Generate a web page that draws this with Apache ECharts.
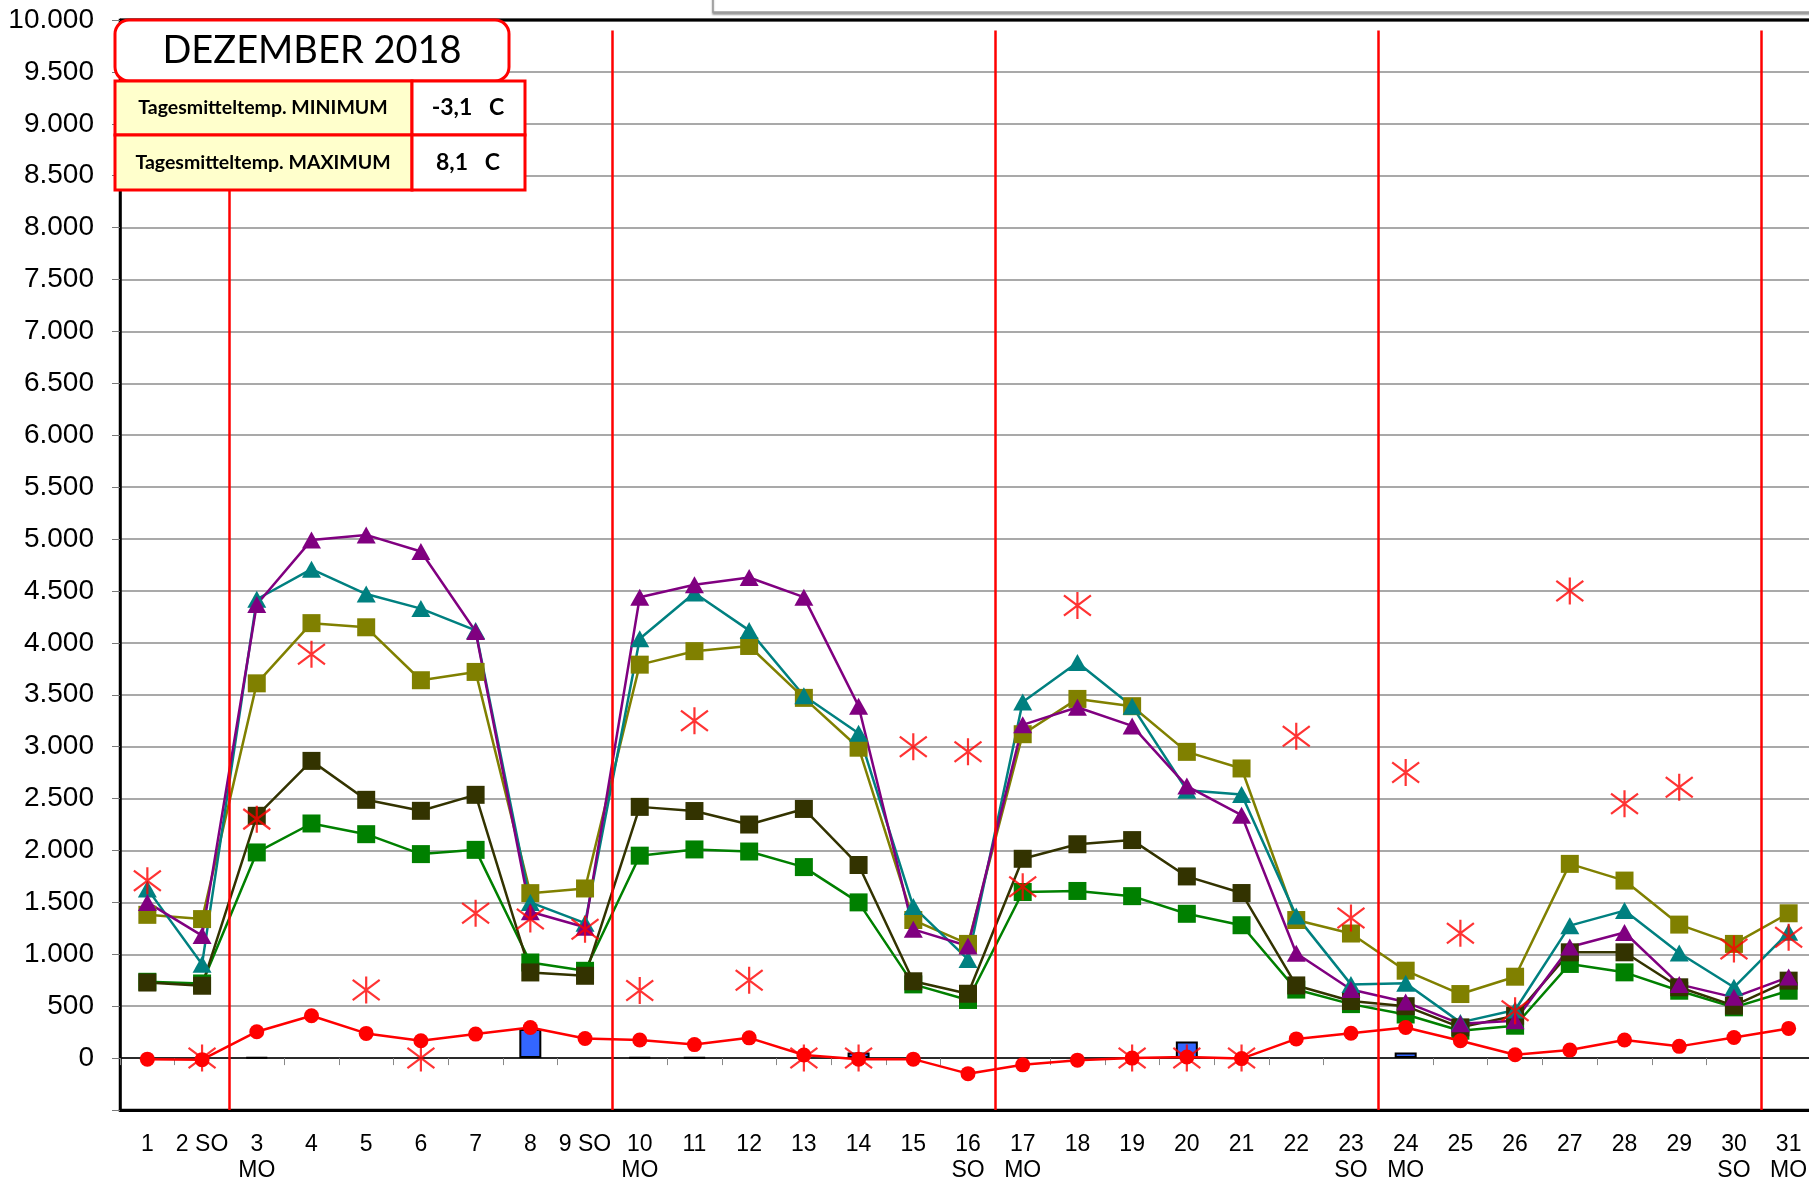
<!DOCTYPE html>
<html>
<head>
<meta charset="utf-8">
<title>Dezember 2018</title>
<script src="https://cdn.jsdelivr.net/npm/echarts@6/dist/echarts.min.js"></script>
<style>
  html, body { margin: 0; padding: 0; background: #fff; }
  #myCharts { width: 1809px; height: 1186px; }
</style>
</head>
<body>
<div id="myCharts"></div>
<script>
// x categories (day + weekday hint)
const days = ['1', '2 SO', '3\nMO', '4', '5', '6', '7', '8', '9 SO', '10\nMO', '11', '12', '13', '14', '15', '16\nSO',
  '17\nMO', '18', '19', '20', '21', '22', '23\nSO', '24\nMO', '25', '26', '27', '28', '29', '30\nSO', '31\nMO'];

// week boundaries (between SO and MO)
const weekBreaks = [2, 9, 16, 23, 30];

const purpleData = [1500, 1180, 4370, 4990, 5040, 4880, 4110, 1410, 1260, 4440, 4560, 4630, 4440, 3390, 1240, 1080,
  3210, 3380, 3200, 2620, 2340, 1010, 660, 540, 330, 360, 1070, 1210, 710, 585, 780];
const tealData = [1630, 905, 4420, 4710, 4470, 4330, 4120, 1500, 1300, 4040, 4480, 4120, 3490, 3130, 1460, 950,
  3430, 3810, 3390, 2580, 2540, 1370, 710, 720, 344, 463, 1276, 1421, 1013, 682, 1212];
const oliveData = [1380, 1339, 3610, 4190, 4150, 3640, 3720, 1589, 1634, 3790, 3920, 3970, 3470, 2990, 1330, 1100,
  3120, 3460, 3390, 2950, 2790, 1330, 1200, 842, 617, 784, 1871, 1710, 1286, 1100, 1395];
const darkData = [728, 697, 2334, 2863, 2488, 2382, 2536, 825, 793, 2420, 2380, 2250, 2400, 1860, 740, 620,
  1920, 2060, 2100, 1750, 1590, 700, 550, 500, 296, 408, 1019, 1019, 682, 505, 746];
const greenData = [735, 719, 1981, 2260, 2157, 1965, 2006, 921, 841, 1950, 2010, 1990, 1840, 1500, 710, 560,
  1600, 1610, 1560, 1390, 1280, 660, 520, 420, 264, 312, 907, 826, 649, 489, 649];
const redData = [-10, -15, 254, 408, 238, 167, 231, 295, 189, 175, 130, 195, 30, -10, -10, -150,
  -65, -20, 0, 10, -5, 185, 240, 295, 167, 32, 77, 174, 113, 199, 286];
const starData = [1708, 0, 2302, 3890, 655, 0, 1396, 1339, 1242, 650, 3250, 750, 0, 0, 3000, 2950,
  1650, 4360, 0, 0, 0, 3100, 1350, 2750, 1202, 456, 4500, 2450, 2610, 1051, 1164];
const barData = [null, null, 8, null, null, null, null, 280, null, 8, 5, null, null, 55, null, null,
  null, null, null, 160, null, null, null, 55, null, null, null, null, null, null, null];

const myCharts = echarts.init(document.getElementById('myCharts'));

function lineSeries(name, data, color, symbol, size) {
  return {
    name: name,
    type: 'line',
    data: data,
    symbol: symbol,
    symbolSize: size,
    itemStyle: { color: color },
    lineStyle: { color: color, width: 2.5 },
    z: 3
  };
}

const starPath = 'path://M10,0L10,20M0,2.5L20,17.5M20,2.5L0,17.5';
const plotLeft = 120;
const plotTop = 20;

myCharts.setOption({
  animation: false,
  backgroundColor: '#fff',
  grid: {
    left: plotLeft,
    width: 1696,
    top: plotTop,
    bottom: 76,
    outerBoundsMode: 'none',
    containLabel: false,
    show: true,
    borderColor: '#000',
    borderWidth: 2.5
  },
  xAxis: [
    {
      type: 'category',
      data: days,
      position: 'bottom',
      axisLine: { onZero: false, lineStyle: { color: '#000', width: 3 } },
      axisTick: { show: false },
      axisLabel: {
        interval: 0,
        margin: 22,
        color: '#000',
        fontFamily: 'Liberation Sans, Arial, sans-serif',
        fontSize: 23,
        lineHeight: 26
      },
      splitLine: { show: false }
    },
    {
      type: 'category',
      data: days,
      position: 'bottom',
      axisLine: { onZero: true, lineStyle: { color: '#000', width: 1.5 } },
      axisTick: { show: true, interval: 0, length: 7, lineStyle: { color: '#888', width: 1 } },
      axisLabel: { show: false },
      splitLine: { show: false }
    },
    {
      type: 'value',
      min: 0,
      max: 31,
      show: false
    }
  ],
  yAxis: {
    type: 'value',
    min: -500,
    max: 10000,
    interval: 500,
    axisLine: { show: true, onZero: false, lineStyle: { color: '#000', width: 2.5 } },
    axisTick: { show: true, length: 8, lineStyle: { color: '#777', width: 1 } },
    axisLabel: {
      margin: 26,
      color: '#000',
      fontFamily: 'Liberation Sans, Arial, sans-serif',
      fontSize: 28,
      formatter: function (v) {
        if (v < 0) return '';
        return String(v).replace(/\B(?=(\d{3})+(?!\d))/g, '.');
      }
    },
    splitLine: { show: true, lineStyle: { color: '#8c8c8c', width: 1.5 } }
  },
  series: [
    {
      name: 'Balken',
      type: 'bar',
      data: barData,
      barWidth: 22,
      itemStyle: { color: '#3366ff', borderColor: '#000', borderWidth: 2 },
      z: 2
    },
    lineSeries('Reihe 5', greenData, '#008000', 'rect', 18),
    lineSeries('Reihe 4', darkData, '#333300', 'rect', 18),
    lineSeries('Reihe 3', oliveData, '#808000', 'rect', 18),
    lineSeries('Reihe 2', tealData, '#008080', 'triangle', [19, 17]),
    lineSeries('Reihe 1', purpleData, '#800080', 'triangle', [19, 17]),
    {
      name: 'Temperatur',
      type: 'line',
      data: redData,
      symbol: 'circle',
      symbolSize: 15,
      itemStyle: { color: '#ff0000' },
      lineStyle: { color: '#ff0000', width: 2.5 },
      z: 4
    },
    {
      name: 'Sterne',
      type: 'scatter',
      data: starData,
      symbol: starPath,
      symbolSize: [27, 27],
      itemStyle: { color: 'rgba(0,0,0,0)', borderColor: '#ff0000', borderWidth: 2.2 },
      z: 5
    },
    {
      name: 'Wochen',
      type: 'line',
      xAxisIndex: 2,
      data: [],
      z: 6,
      markLine: {
        silent: true,
        symbol: 'none',
        label: { show: false },
        lineStyle: { color: '#ff0000', width: 2.5, type: 'solid' },
        data: weekBreaks.map(function (x) {
          return [{ coord: [x, 9900] }, { coord: [x, -500] }];
        })
      }
    }
  ],
  graphic: [
    // thick top border of the plot area
    { type: 'line', z: 40, shape: { x1: plotLeft, y1: plotTop, x2: 1809, y2: plotTop },
      style: { stroke: '#000', lineWidth: 3 } },
    // legend box cut at the top
    { type: 'rect', z: 50, shape: { x: 713, y: -20, width: 1120, height: 32 },
      style: { fill: '#fff', stroke: '#9a9a9a', lineWidth: 1.5, shadowColor: 'rgba(0,0,0,0.35)', shadowOffsetY: 2, shadowBlur: 2 } },
    // title box
    { type: 'rect', z: 100, shape: { x: 115, y: 20, width: 394, height: 61, r: 14 },
      style: { fill: '#fff', stroke: '#ff0000', lineWidth: 3 } },
    { type: 'text', z: 101, style: { x: 312, y: 51, text: 'DEZEMBER 2018', align: 'center', verticalAlign: 'middle',
      font: '38px Lato, "Open Sans", sans-serif', fill: '#000' } },
    { type: 'rect', z: 100, shape: { x: 115, y: 81, width: 297, height: 54 },
      style: { fill: '#ffffcc', stroke: '#ff0000', lineWidth: 3 } },
    { type: 'rect', z: 100, shape: { x: 412, y: 81, width: 113, height: 54 },
      style: { fill: '#fff', stroke: '#ff0000', lineWidth: 3 } },
    { type: 'rect', z: 100, shape: { x: 115, y: 135, width: 297, height: 55 },
      style: { fill: '#ffffcc', stroke: '#ff0000', lineWidth: 3 } },
    { type: 'rect', z: 100, shape: { x: 412, y: 135, width: 113, height: 55 },
      style: { fill: '#fff', stroke: '#ff0000', lineWidth: 3 } },
    { type: 'text', z: 101, style: { x: 263, y: 108, text: 'Tagesmitteltemp. MINIMUM', align: 'center', verticalAlign: 'middle',
      font: 'bold 19.5px Lato, "Open Sans", sans-serif', fill: '#000' } },
    { type: 'text', z: 101, style: { x: 263, y: 163, text: 'Tagesmitteltemp. MAXIMUM', align: 'center', verticalAlign: 'middle',
      font: 'bold 19.5px Lato, "Open Sans", sans-serif', fill: '#000' } },
    { type: 'text', z: 101, style: { x: 468, y: 108, text: '-3,1   C', align: 'center', verticalAlign: 'middle',
      font: 'bold 23px Lato, "Open Sans", sans-serif', fill: '#000' } },
    { type: 'text', z: 101, style: { x: 468, y: 163, text: '8,1   C', align: 'center', verticalAlign: 'middle',
      font: 'bold 23px Lato, "Open Sans", sans-serif', fill: '#000' } }
  ]
});
</script>
</body>
</html>
